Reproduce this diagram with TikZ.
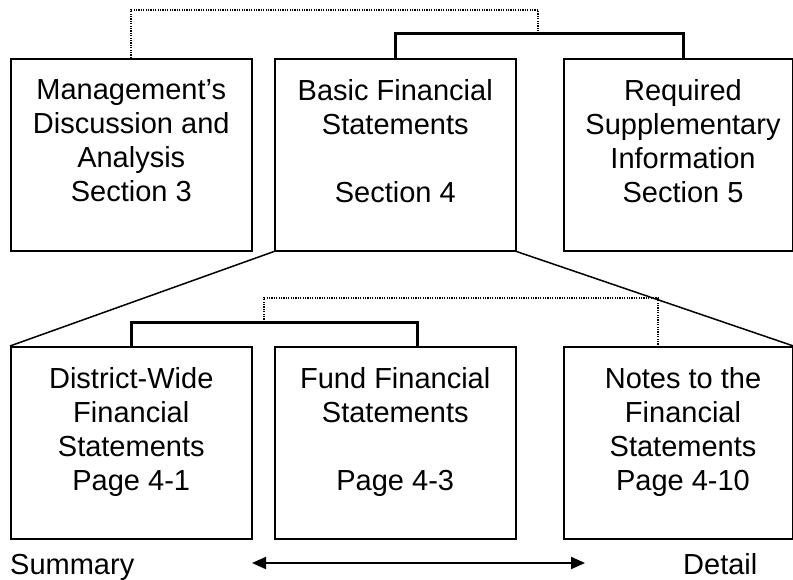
\documentclass[tikz,border=0pt]{standalone}
\usepackage{fontspec}
\setmainfont{Liberation Sans}
\usetikzlibrary{calc,arrows.meta}
\begin{document}
\begin{tikzpicture}[x=1pt,y=-1pt,
  boxnode/.style={draw,line width=1.5pt,minimum width=241pt,minimum height=192pt,inner sep=0pt,anchor=north west},
  narrowbox/.style={boxnode,minimum width=229pt},
  txt/.style={align=center,anchor=north,inner sep=0pt,font=\fontsize{29}{34}\selectfont},
  lbl/.style={anchor=base west,inner sep=0pt,font=\fontsize{29}{34}\selectfont},
  solidlink/.style={line width=3pt},
  dotlink/.style={line width=1.6pt,dash pattern=on 1.2pt off 1.2pt},
  diag/.style={line width=1.5pt},
  arr/.style={line width=2pt,{Triangle[length=14pt,width=12pt]}-{Triangle[length=14pt,width=12pt]}}]
\useasboundingbox (0,0) rectangle (793,579);
% top row
\node[boxnode] (b1) at (10,58) {};
\node[boxnode] (b2) at (274,58) {};
\node[narrowbox] (b3) at (563,58) {};
% bottom row
\node[boxnode] (b4) at (10,346) {};
\node[boxnode] (b5) at (274,346) {};
\node[narrowbox] (b6) at (563,346) {};
% texts
\node[txt] (t1) at ($(b1.north)+(0,21)$) {Management's\\Discussion and\\Analysis\\Section 3};
\node[txt] (t2) at ($(b2.north)+(0,21)$) {Basic Financial\\Statements\\\mbox{}\\Section 4};
\node[txt] (t3) at ($(b3.north west)+(120,21)$) {Required\\Supplementary\\Information\\Section 5};
\node[txt] (t4) at ($(b4.north)+(0,21)$) {District-Wide\\Financial\\Statements\\Page 4-1};
\node[txt] (t5) at ($(b5.north)+(0,21)$) {Fund Financial\\Statements\\\mbox{}\\Page 4-3};
\node[txt] (t6) at ($(b6.north west)+(120,21)$) {Notes to the\\Financial\\Statements\\Page 4-10};
% top connectors
\draw[dotlink] (b1.north) -- ++(0,-48) -| ($(b2.north)+(143,-25)$);
\draw[solidlink] ($(b2.north)+(0.5,0)$) -- ++(0,-25) -| ($(b3.north west)+(120,0)$);
% diagonals
\draw[diag] (b2.south west) -- (b4.north west);
\draw[diag] (b2.south east) -- (b6.north east);
% bottom connectors
\draw[dotlink] ($(b4.north)+(133,-24)$) -- ++(0,-24) -| ($(b6.north west)+(95,0)$);
\draw[solidlink] (b4.north) -- ++(0,-24) -| ($(b5.north)+(22.5,0)$);
% arrow and labels
\coordinate (arrL) at (252,563);
\coordinate (arrR) at (585,563);
\draw[arr] (arrL) -- (arrR);
\node[lbl] (sum) at (10,574) {Summary};
\node[lbl] (det) at (683,574) {Detail};
\end{tikzpicture}
\end{document}
